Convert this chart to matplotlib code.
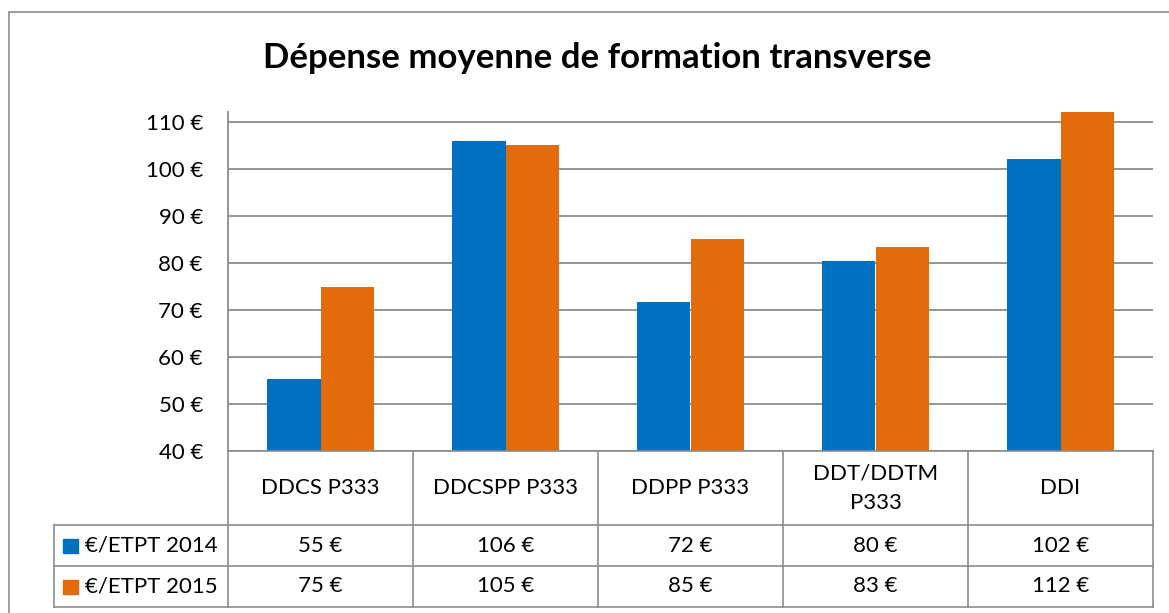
import matplotlib.pyplot as plt
from matplotlib.patches import Rectangle
from matplotlib.transforms import blended_transform_factory

# data
categories = ["DDCS P333", "DDCSPP P333", "DDPP P333", "DDT/DDTM\nP333", "DDI"]
series_names = ["€/ETPT 2014", "€/ETPT 2015"]
values_2014 = [55.4, 106.0, 71.7, 80.4, 102.1]
values_2015 = [74.8, 105.2, 85.0, 83.3, 112.1]
y_ticks = [40, 50, 60, 70, 80, 90, 100, 110]
colors = ["#0070C0", "#E36C0A"]

W, H = 1169, 613
FONT = "Lato"
GRAY = "#8c8c8c"

plt.rcParams['font.family'] = [FONT, 'DejaVu Sans']

fig = plt.figure(figsize=(W / 100, H / 100), dpi=100)


def fx(px):
    return px / W


def fy(py):
    return 1 - py / H


# outer chart border (runs off the right and bottom edges)
fig.patches.append(Rectangle((fx(9), fy(700)), fx(1300), fy(12) - fy(700),
                             transform=fig.transFigure, fill=False,
                             edgecolor=GRAY, linewidth=1.2))

ax = fig.add_axes([fx(228), fy(451), fx(1153) - fx(228), fy(111.6) - fy(451)])

n = len(categories)
xs = list(range(n))
bw = 0.29
ax.bar([x - bw / 2 for x in xs], values_2014, width=bw, color=colors[0], zorder=3)
ax.bar([x + bw / 2 for x in xs], values_2015, width=bw, color=colors[1], zorder=3)

ax.set_xlim(-0.5, n - 0.5)
ax.set_ylim(40, 112.2)
ax.set_yticks(y_ticks)
ax.set_yticklabels([f"{t} €" for t in y_ticks])
ax.tick_params(axis='y', length=0, pad=18, labelsize=16)
ax.set_xticks([])
ax.grid(axis='y', color=GRAY, linewidth=1.3, zorder=0)
for side in ["top", "right", "bottom"]:
    ax.spines[side].set_visible(False)
ax.spines["left"].set_color(GRAY)
ax.spines["left"].set_linewidth(1.3)

fig.text(fx(597), fy(58), "Dépense moyenne de formation transverse",
         ha="center", va="center", fontsize=25, fontweight="bold")

# data table under the plot
tr = blended_transform_factory(ax.transData, fig.transFigure)
row_top, row_cat, row_a, row_b = 451, 525, 566, 607
line_kw = dict(color=GRAY, linewidth=1.2, clip_on=False)

for i in range(n + 1):
    ax.plot([i - 0.5, i - 0.5], [fy(row_top), fy(row_b)], transform=tr, **line_kw)
for py in (row_top, row_cat, row_a, row_b):
    x0 = fx(228) if py == row_top else fx(54)
    fig.add_artist(plt.Line2D([x0, fx(1153)], [fy(py), fy(py)],
                              transform=fig.transFigure, **line_kw))
fig.add_artist(plt.Line2D([fx(54), fx(54)], [fy(row_cat), fy(row_b)],
                          transform=fig.transFigure, **line_kw))

for i, cat in enumerate(categories):
    ax.text(i, fy((row_top + row_cat) / 2), cat, transform=tr, ha="center",
            va="center", fontsize=16, linespacing=1.6)

rows = [(values_2014, row_cat, row_a), (values_2015, row_a, row_b)]
for k, (vals, t, b) in enumerate(rows):
    yc = fy((t + b) / 2)
    for i, v in enumerate(vals):
        ax.text(i, yc, f"{v:.0f} €", transform=tr, ha="center", va="center",
                fontsize=16)
    fig.patches.append(Rectangle((fx(63), yc - (fy(0) - fy(7))), fx(15), fy(0) - fy(14),
                                 transform=fig.transFigure, color=colors[k]))
    fig.text(fx(85), yc, series_names[k], ha="left", va="center", fontsize=16)

fig.savefig("out.png", dpi=100)
